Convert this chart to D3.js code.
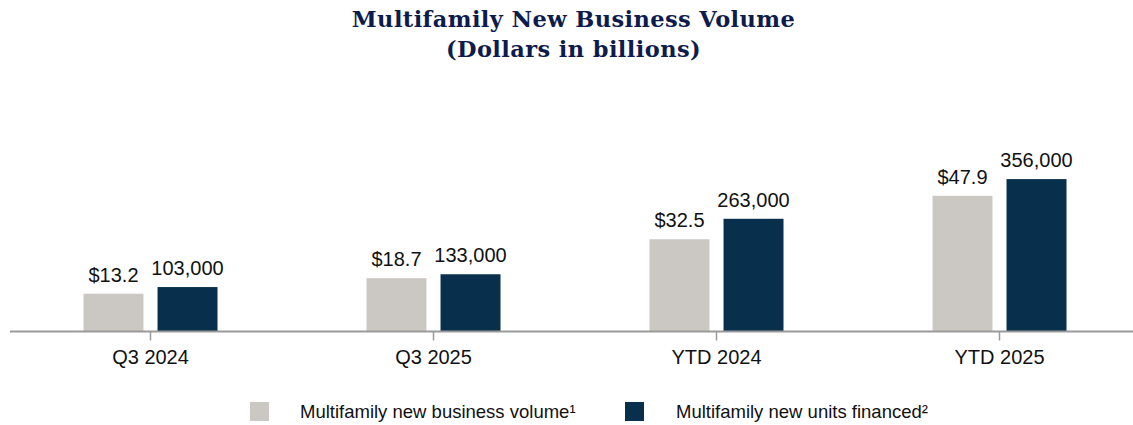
<!DOCTYPE html>
<html>
<head>
<meta charset="utf-8">
<script src="https://cdn.jsdelivr.net/npm/d3@7"></script>
<style>
  html, body { margin: 0; padding: 0; background: #fff; }
  svg { display: block; }
</style>
</head>
<body>
<svg id="chart" width="1133" height="425"></svg>
<script>
const categories = ["Q3 2024", "Q3 2025", "YTD 2024", "YTD 2025"];
const volumeBillions = [13.2, 18.7, 32.5, 47.9];
const unitsFinanced = [103000, 133000, 263000, 356000];
const seriesNames = ["Multifamily new business volume\u00B9", "Multifamily new units financed\u00B2"];
const titleLines = ["Multifamily New Business Volume", "(Dollars in billions)"];

const colors = ["#cbc8c3", "#082f4b"];
const W = 1133, H = 425;
const baseY = 331;

const svg = d3.select("#chart");

// Title
const title = svg.append("g");
titleLines.forEach((t, i) => {
  title.append("text")
    .attr("x", 573.5)
    .attr("y", 27 + i * 30)
    .attr("text-anchor", "middle")
    .attr("font-family", "'DejaVu Serif', Georgia, serif")
    .attr("font-weight", "bold")
    .attr("font-size", 22.5)
    .attr("fill", "#0e1b4d")
    .text(t);
});
// tighten letter spacing so the first line spans ~443px
const first = title.select("text").node();
const len = first.getComputedTextLength();
const ls = (443 - len) / (titleLines[0].length - 1);
title.selectAll("text").attr("letter-spacing", ls);

// Scales
const x0 = d3.scaleBand().domain(categories).range([9, 1141]).padding(0);
const x1 = d3.scaleBand().domain([0, 1]).range([-67, 67]).paddingInner(0.19).paddingOuter(0);
const yVol = d3.scaleLinear().domain([0, 68]).range([baseY, baseY - 192]);
const yUnits = d3.scaleLinear().domain([0, 450000]).range([baseY, baseY - 192]);

const rows = categories.map((c, i) => ({ cat: c, vals: [
  { k: 0, v: volumeBillions[i], y: yVol, label: "$" + volumeBillions[i].toFixed(1) },
  { k: 1, v: unitsFinanced[i], y: yUnits, label: d3.format(",")(unitsFinanced[i]) }
]}));

const groups = svg.append("g").selectAll("g").data(rows).join("g")
  .attr("transform", d => `translate(${x0(d.cat) + x0.bandwidth() / 2},0)`);

groups.selectAll("rect").data(d => d.vals).join("rect")
  .attr("x", d => x1(d.k))
  .attr("width", x1.bandwidth())
  .attr("y", d => d.y(d.v))
  .attr("height", d => baseY - d.y(d.v))
  .attr("fill", d => colors[d.k]);

groups.selectAll("text.val").data(d => d.vals).join("text")
  .attr("class", "val")
  .attr("x", d => x1(d.k) + x1.bandwidth() / 2)
  .attr("y", d => d.y(d.v) - 12)
  .attr("text-anchor", "middle")
  .attr("font-family", "'Liberation Sans', Arial, sans-serif")
  .attr("font-size", 20)
  .attr("fill", "#111")
  .text(d => d.label);

// Axis
const axis = d3.axisBottom(x0).tickSize(9).tickSizeOuter(0).tickPadding(9);
const ag = svg.append("g").attr("transform", `translate(0,${baseY + 0.5})`).call(axis);
ag.select(".domain").attr("stroke", "#9a9a9a").attr("stroke-width", 2).attr("d", "M10,0H1133");
ag.selectAll(".tick line").attr("stroke", "#9a9a9a").attr("stroke-width", 1.5);
ag.selectAll(".tick text")
  .attr("font-family", "'Liberation Sans', Arial, sans-serif")
  .attr("font-size", 20)
  .attr("fill", "#111");

// Legend
const legendX = [250, 625];
const lg = svg.append("g").selectAll("g").data(seriesNames).join("g")
  .attr("transform", (d, i) => `translate(${legendX[i]},402)`);
lg.append("rect").attr("width", 19).attr("height", 19).attr("fill", (d, i) => colors[i]);
lg.append("text")
  .attr("x", (d, i) => i === 0 ? 50 : 51)
  .attr("y", 16)
  .attr("font-family", "'Liberation Sans', Arial, sans-serif")
  .attr("font-size", 18.5)
  .attr("fill", "#111")
  .text(d => d);
</script>
</body>
</html>
